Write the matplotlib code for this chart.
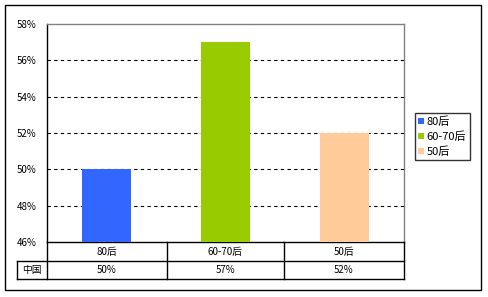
import matplotlib
matplotlib.use("Agg")
import matplotlib.pyplot as plt
from matplotlib.lines import Line2D
from matplotlib.patches import Rectangle, Patch

plt.rcParams['font.family'] = ['Noto Sans CJK SC', 'DejaVu Sans']

categories = ["80后", "60-70后", "50后"]
values = [50, 57, 52]
value_labels = ["50%", "57%", "52%"]
row_label = "中国"
colors = ["#3366FF", "#99CC00", "#FFCC99"]
yticks = [46, 48, 50, 52, 54, 56, 58]

W, H = 488, 297
fig = plt.figure(figsize=(W / 100, H / 100), dpi=100)

def fx(x):
    return x / W

def fy(y):
    return 1 - y / H

L, R, T, B = 46.7, 404, 24, 242
ax = fig.add_axes([fx(L), fy(B), fx(R) - fx(L), fy(T) - fy(B)])
x = range(len(categories))
ax.bar(x, values, width=0.41, color=colors, zorder=3)
ax.set_xlim(-0.5, 2.5)
ax.set_ylim(46, 58)
ax.set_yticks(yticks)
ax.set_yticklabels([f"{v}%" for v in yticks], fontsize=7)
ax.tick_params(axis='y', length=0, pad=7.5)
ax.set_xticks([])
for v in yticks[1:-1]:
    ax.axhline(v, color='black', lw=0.8, ls=(0, (3, 3)), zorder=1)
ax.spines['top'].set_color('#808080')
ax.spines['right'].set_color('#808080')
ax.spines['left'].set_color('black')
ax.spines['bottom'].set_color('black')
for s in ax.spines.values():
    s.set_linewidth(1)

# table
r1, r2 = 261, 279
colx = [L, 167, 284, R]
def hline(x0, x1, y):
    fig.add_artist(Line2D([fx(x0), fx(x1)], [fy(y), fy(y)], color='black', lw=1))
def vline(xx, y0, y1):
    fig.add_artist(Line2D([fx(xx), fx(xx)], [fy(y0), fy(y1)], color='black', lw=1))
hline(17, R, r1)
hline(17, R, r2)
for xx in colx:
    vline(xx, B, r2)
vline(17, r1, r2)
for i, cat in enumerate(categories):
    cx = (colx[i] + colx[i + 1]) / 2
    fig.text(fx(cx), fy((B + r1) / 2), cat, ha='center', va='center', fontsize=7)
    fig.text(fx(cx), fy((r1 + r2) / 2), value_labels[i], ha='center', va='center', fontsize=7)
fig.text(fx((17 + L) / 2), fy((r1 + r2) / 2), row_label, ha='center', va='center', fontsize=7)

# outer border
fig.add_artist(Rectangle((fx(5), fy(290)), fx(481) - fx(5), fy(5) - fy(290),
                         fill=False, edgecolor='black', lw=1, transform=fig.transFigure))

handles = [Patch(facecolor=c, edgecolor='none') for c in colors]
leg = fig.legend(handles, categories, loc='upper left',
                 bbox_to_anchor=(fx(415), fy(113)), fontsize=8,
                 frameon=True, fancybox=False, handlelength=0.55, handleheight=0.55,
                 handletextpad=0.2, borderpad=0.3, labelspacing=0.4, borderaxespad=0)
leg.get_frame().set_edgecolor('black')
leg.get_frame().set_linewidth(1)

fig.savefig("out.png", dpi=100)
